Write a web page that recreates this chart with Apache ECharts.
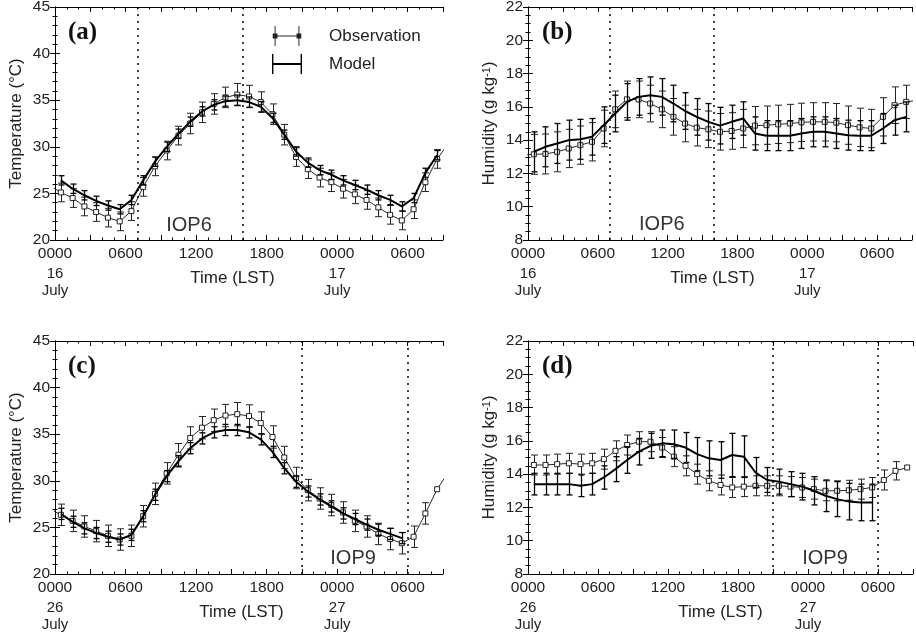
<!DOCTYPE html>
<html><head><meta charset="utf-8">
<script src="https://cdn.jsdelivr.net/npm/echarts/dist/echarts.min.js"></script>
<style>html,body{margin:0;padding:0;background:#fff}#c{width:916px;height:633px}</style>
</head><body><div id="c"></div>
<script>
// ---------- data ----------
const hours = [0.5,1.5,2.5,3.5,4.5,5.5,6.5,7.5,8.5,9.5,10.5,11.5,12.5,13.5,14.5,15.5,16.5,17.5,18.5,19.5,20.5,21.5,22.5,23.5,24.5,25.5,26.5,27.5,28.5,29.5,30.5,31.5,32.5];
const edgeHours = [-0.5, 33.5];
const tickHours = [0, 6, 12, 18, 24, 30];
const tickLabels = ['0000', '0600', '1200', '1800', '0000', '0600'];
const datesTop = ['16', '17'];
const datesBottom = ['26', '27'];
const monthName = 'July';
const iopTop = [7, 16];
const iopBottom = [21, 30];

// (a) temperature, IOP6
const obsA = [25.1,24.5,23.6,23.0,22.4,22.0,23.1,25.7,27.9,29.6,31.2,32.5,33.7,34.6,35.3,35.6,35.4,34.8,33.5,31.3,28.9,27.6,26.7,26.2,25.5,24.9,24.3,23.5,22.7,22.1,23.3,26.2,28.7];
const obsAEdge = [25.9, 30.4];
const obsErrA = [1.0,1.0,1.0,1.0,1.0,1.0,1.0,1.0,1.0,1.0,1.0,1.1,1.1,1.1,1.1,1.2,1.2,1.1,1.1,1.1,1.0,1.0,1.0,1.0,1.0,1.0,1.0,1.0,1.0,1.0,1.0,1.0,1.0];
const modA = [26.4,25.5,24.8,24.2,23.7,23.3,24.3,26.4,28.4,30.0,31.4,32.7,33.8,34.5,34.9,35.0,34.8,34.3,33.1,31.3,29.5,28.3,27.5,27.0,26.4,25.9,25.4,24.8,24.3,23.6,24.5,27.2,29.1];
const modErrA = [0.5,0.5,0.5,0.5,0.5,0.5,0.5,0.5,0.5,0.5,0.5,0.5,0.5,0.55,0.55,0.55,0.55,0.55,0.5,0.5,0.5,0.5,0.5,0.5,0.5,0.5,0.5,0.5,0.5,0.5,0.5,0.5,0.5];

// (b) humidity, IOP6
const obsB = [13.15,13.17,13.3,13.5,13.7,13.9,14.7,15.85,16.45,16.45,16.2,15.85,15.4,15.0,14.75,14.65,14.5,14.55,14.7,14.87,14.9,14.95,15.0,15.07,15.1,15.1,15.05,14.9,14.77,14.7,15.4,16.1,16.3];
const obsBEdge = [13.1, 16.4];
const obsErrB = [1.2,1.2,1.2,1.15,1.15,1.15,1.1,1.1,1.1,1.1,1.1,1.1,1.1,1.1,1.1,1.1,1.1,1.1,1.15,1.15,1.15,1.15,1.15,1.15,1.15,1.15,1.15,1.15,1.15,1.15,1.15,1.1,1.0];
const modB = [13.3,13.6,13.8,14.0,14.05,14.2,14.9,15.6,16.3,16.6,16.7,16.6,16.2,15.75,15.4,15.1,14.87,15.1,15.3,14.4,14.27,14.27,14.27,14.4,14.5,14.5,14.4,14.3,14.27,14.27,14.7,15.2,15.4];
const modErrB = [1.2,1.2,1.2,1.2,1.2,1.1,1.1,1.1,1.1,1.1,1.1,1.1,1.1,1.1,1.1,1.1,1.1,1.0,1.0,1.0,0.9,0.9,0.9,0.9,0.9,0.9,0.9,0.9,0.9,0.9,0.9,0.9,0.9];

// (c) temperature, IOP9
const obsC = [26.35,25.7,25.1,24.6,24.1,23.7,24.1,26.2,28.6,30.8,32.8,34.6,35.7,36.5,37.0,37.15,36.95,36.2,34.7,32.5,30.3,29.0,28.1,27.4,26.6,25.7,25.1,24.3,23.75,23.3,24.0,26.5,29.1];
const obsCEdge = [27.0, 31.0];
const obsErrC = [1.15,1.15,1.15,1.15,1.15,1.15,1.15,1.15,1.15,1.15,1.2,1.2,1.2,1.2,1.2,1.25,1.2,1.2,1.2,1.2,1.15,1.15,1.15,1.15,1.15,1.15,1.15,1.15,1.15,1.15,1.15,1.15,0];
const modC = [26.45,25.6,24.9,24.4,24.0,23.7,24.2,26.2,28.5,30.5,32.1,33.5,34.55,35.2,35.45,35.45,35.2,34.45,33.1,31.35,29.9,28.85,28.0,27.25,26.5,25.9,25.3,24.75,24.3,23.85];
const modErrC = [0.6,0.6,0.6,0.6,0.6,0.6,0.6,0.6,0.6,0.6,0.6,0.6,0.6,0.6,0.6,0.6,0.6,0.6,0.6,0.6,0.6,0.6,0.6,0.6,0.6,0.6,0.6,0.6,0.6,0.6];

// (d) humidity, IOP9
const obsD = [14.55,14.55,14.6,14.65,14.6,14.65,14.9,15.4,15.75,15.95,15.95,15.6,15.05,14.5,14.0,13.6,13.35,13.2,13.25,13.3,13.3,13.3,13.25,13.2,13.1,13.0,13.0,13.03,13.1,13.2,13.65,14.2,14.4];
const obsErrD = [0.6,0.6,0.6,0.6,0.6,0.6,0.6,0.6,0.6,0.6,0.6,0.6,0.6,0.6,0.6,0.6,0.6,0.6,0.6,0.6,0.6,0.6,0.6,0.6,0.6,0.6,0.6,0.6,0.6,0.6,0.6,0.55,0];
const modD = [13.4,13.4,13.4,13.4,13.3,13.4,13.8,14.3,14.85,15.35,15.7,15.85,15.8,15.6,15.2,14.95,14.85,15.15,15.05,14.1,13.65,13.55,13.4,13.25,13.0,12.7,12.5,12.35,12.3,12.3];
const modErrD = [0.65,0.65,0.65,0.65,0.65,0.65,0.7,0.75,0.8,0.8,0.75,0.8,0.85,0.9,1.0,1.05,1.1,1.3,1.25,0.9,0.75,0.75,0.75,0.8,0.85,0.95,1.05,1.1,1.1,1.1];

// ---------- layout / style ----------
const FONT = '"Liberation Sans", Arial, sans-serif';
const TXT = '#222';
const panels = [
  {letter:'(a)', grid:{left:55, top:7, width:388, height:233}, ymin:20, ymax:45, yint:5, ysplit:5, yname:'Temperature (°C)', obs:obsA, obsEdge:obsAEdge, obsErr:obsErrA, mod:modA, modErr:modErrA, dates:datesTop, iop:iopTop, iopText:'IOP6', iopAt:[11.4, 21.6], namePad:33, letterPos:[68,20]},
  {letter:'(b)', grid:{left:528, top:7, width:384, height:233}, ymin:8, ymax:22, yint:2, ysplit:4, yname:'Humidity (g kg{sup|-1})', obs:obsB, obsEdge:obsBEdge, obsErr:obsErrB, mod:modB, modErr:modErrB, dates:datesTop, iop:iopTop, iopText:'IOP6', iopAt:[11.5, 8.96], namePad:15, letterPos:[542,20]},
  {letter:'(c)', grid:{left:55, top:341, width:388, height:233}, ymin:20, ymax:45, yint:5, ysplit:5, yname:'Temperature (°C)', obs:obsC, obsEdge:obsCEdge, obsErr:obsErrC, mod:modC, modErr:modErrC, dates:datesBottom, iop:iopBottom, iopText:'IOP9', iopAt:[25.35, 21.7], namePad:15, letterPos:[68,354]},
  {letter:'(d)', grid:{left:528, top:341, width:385, height:233}, ymin:8, ymax:22, yint:2, ysplit:4, yname:'Humidity (g kg{sup|-1})', obs:obsD, obsEdge:null, obsErr:obsErrD, mod:modD, modErr:modErrD, dates:datesBottom, iop:iopBottom, iopText:'IOP9', iopAt:[25.46, 8.96], namePad:0, letterPos:[542,354]}
];

function xFmt(dates) {
  return function (v) {
    const i = tickHours.indexOf(v);
    if (i < 0) return '';
    if (v % 24 === 0) return '{t|' + tickLabels[i] + '}\n{d|' + dates[v / 24] + '}\n{d|' + monthName + '}';
    return '{t|' + tickLabels[i] + '}';
  };
}
function errRender(capHalf, color, width) {
  return function (params, api) {
    const x = api.value(0), lo = api.value(1), hi = api.value(2);
    if (hi - lo <= 0) return null;
    const a = api.coord([x, hi]), b = api.coord([x, lo]);
    const cx = Math.round(a[0]) + 0.5;
    const st = {stroke: color, lineWidth: width, fill: null};
    return {type: 'group', children: [
      {type: 'line', shape: {x1: cx, y1: a[1], x2: cx, y2: b[1]}, style: st},
      {type: 'line', shape: {x1: cx - capHalf, y1: a[1], x2: cx + capHalf, y2: a[1]}, style: st},
      {type: 'line', shape: {x1: cx - capHalf, y1: b[1], x2: cx + capHalf, y2: b[1]}, style: st}
    ]};
  };
}
const axLine = {lineStyle: {color: '#000', width: 1}};
const grids = [], xAxes = [], yAxes = [], series = [], titles = [];
panels.forEach((p, k) => {
  grids.push(Object.assign({outerBoundsMode: 'none', containLabel: false}, p.grid));
  const xBase = {type: 'value', gridIndex: k, min: 0, max: 33, interval: 3,
    axisLine: axLine, splitLine: {show: false},
    axisTick: {inside: true, length: 5, lineStyle: {color: '#000'}},
    minorTick: {show: true, splitNumber: 3, length: 2.5, lineStyle: {color: '#000'}}};
  xAxes.push(Object.assign({}, xBase, {position: 'bottom',
    name: 'Time (LST)', nameLocation: 'middle', nameGap: 30, nameMoveOverlap: false,
    nameTextStyle: {fontSize: 17, color: TXT, fontFamily: FONT, padding: [0, p.namePad, 0, 0]},
    axisLabel: {show: true, margin: 3, formatter: xFmt(p.dates), color: TXT, fontFamily: FONT, showMinLabel: true, showMaxLabel: true,
      rich: {t: {fontSize: 15.5, lineHeight: 22, color: TXT, fontFamily: FONT}, d: {fontSize: 15, lineHeight: 17, color: TXT, fontFamily: FONT}}}}));
  xAxes.push(Object.assign({}, xBase, {position: 'top', axisLabel: {show: false}}));
  const yBase = {type: 'value', gridIndex: k, min: p.ymin, max: p.ymax, interval: p.yint,
    axisLine: axLine, splitLine: {show: false},
    axisTick: {inside: true, length: 5, lineStyle: {color: '#000'}},
    minorTick: {show: true, splitNumber: p.ysplit, length: 2.5, lineStyle: {color: '#000'}}};
  yAxes.push(Object.assign({}, yBase, {position: 'left',
    name: p.yname, nameLocation: 'middle', nameGap: 30, nameMoveOverlap: false,
    nameTextStyle: {fontSize: 17, color: TXT, fontFamily: FONT,
      rich: {sup: {fontSize: 11, color: TXT, fontFamily: FONT, verticalAlign: 'top', padding: [0, 0, 6, 0]}}},
    axisLabel: {margin: 5, fontSize: 15.5, color: TXT, fontFamily: FONT}}));
  yAxes.push(Object.assign({}, yBase, {position: 'right', axisLabel: {show: false}}));

  const xi = 2 * k, yi = 2 * k;
  const obsData = hours.map((h, i) => [h, p.obs[i]]);
  if (p.obsEdge) { obsData.unshift([edgeHours[0], p.obsEdge[0]]); obsData.push([edgeHours[1], p.obsEdge[1]]); }
  series.push({name: 'Observation', type: 'line', xAxisIndex: xi, yAxisIndex: yi, data: obsData, clip: true,
    symbol: 'rect', symbolSize: 5, showAllSymbol: true, animation: false,
    itemStyle: {color: '#fff', borderColor: '#222', borderWidth: 1},
    lineStyle: {color: '#2a2a2a', width: 1}, z: 3});
  series.push({name: 'Observation', type: 'custom', xAxisIndex: xi, yAxisIndex: yi, clip: true, animation: false,
    data: hours.map((h, i) => [h, p.obs[i] - p.obsErr[i], p.obs[i] + p.obsErr[i]]),
    encode: {x: 0, y: [1, 2]}, renderItem: errRender(3.5, '#222', 1), z: 2});
  series.push({name: 'Model', type: 'line', xAxisIndex: xi, yAxisIndex: yi, clip: true, animation: false,
    data: p.mod.map((v, i) => [hours[i], v]), symbol: 'none',
    itemStyle: {color: '#000'}, lineStyle: {color: '#000', width: 2}, z: 4,
    markLine: {silent: true, symbol: 'none', label: {show: false}, animation: false,
      lineStyle: {type: [2, 5], color: '#000', width: 1.5},
      data: p.iop.map(h => ({xAxis: h}))}});
  series.push({name: 'Model', type: 'custom', xAxisIndex: xi, yAxisIndex: yi, clip: true, animation: false,
    data: p.mod.map((v, i) => [hours[i], v - p.modErr[i], v + p.modErr[i]]),
    encode: {x: 0, y: [1, 2]}, renderItem: errRender(3, '#000', 1.3), z: 4});
  titles.push({text: p.letter, left: p.letterPos[0], top: p.letterPos[1], padding: 0,
    textStyle: {fontFamily: '"Liberation Serif", "Times New Roman", serif', fontWeight: 'bold', fontSize: 25, color: '#111'}});
});

const chart = echarts.init(document.getElementById('c'), null, {renderer: 'canvas'});
chart.setOption({
  backgroundColor: '#fff',
  animation: false,
  title: titles,
  grid: grids, xAxis: xAxes, yAxis: yAxes, series: series,
  legend: {show: true, left: 267, top: 21, orient: 'vertical', itemGap: 8, itemWidth: 30, itemHeight: 20,
    selectedMode: false,
    textStyle: {fontSize: 17, color: TXT, fontFamily: FONT, padding: [0, 0, 0, 22]},
    data: [
      {name: 'Observation', icon: 'path://M0,8h5v5h-5z M25,8h5v5h-5z M2,0h1v21h-1z M27,0h1v21h-1z M2.5,10h25v1h-25z', itemStyle: {color: '#222', borderWidth: 0}},
      {name: 'Model', icon: 'path://M0,0h1.4v20h-1.4z M28.6,0h1.4v20h-1.4z M0,9h30v2h-30z', itemStyle: {color: '#000', borderWidth: 0}}
    ]}
});
const graphics = panels.map((p, k) => {
  const pt = chart.convertToPixel({xAxisIndex: 2 * k, yAxisIndex: 2 * k}, p.iopAt);
  return {type: 'text', x: pt[0], y: pt[1], silent: true,
    style: {text: p.iopText, fontSize: 20, fontFamily: FONT, fill: '#333', align: 'center', verticalAlign: 'middle'}};
});
chart.setOption({graphic: graphics});
</script></body></html>
